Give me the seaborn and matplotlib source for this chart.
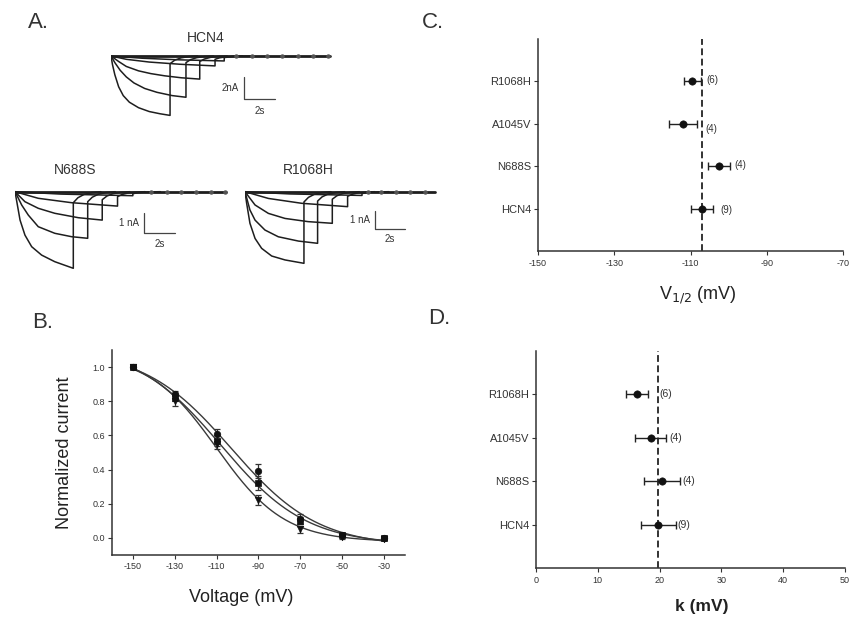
import numpy as np
import pandas as pd
import matplotlib
matplotlib.use("Agg")
import matplotlib.pyplot as plt
import seaborn as sns

# ---------------- data ----------------
# Panel A: whole-cell current traces (time in s, current in nA), one list per sweep
hcn4_times = [
    [0, 0.1, 0.25, 0.5, 0.8, 1.2, 1.8, 2.5, 3.2, 3.86],
    [0, 0.25, 0.6, 1.0, 1.5, 2.2, 3.0, 4.0, 4.9],
    [0, 0.5, 1.0, 1.8, 2.6, 3.5, 4.6, 5.8],
    [0, 1.0, 2.5, 4.5, 6.8],
    [0, 2.0, 4.5, 7.4],
]
hcn4_currents = [
    [0, -0.8, -1.7, -2.8, -3.6, -4.2, -4.7, -5.05, -5.25, -5.4],
    [0, -0.6, -1.3, -1.9, -2.45, -2.95, -3.3, -3.6, -3.75],
    [0, -0.5, -0.95, -1.35, -1.6, -1.8, -1.98, -2.1],
    [0, -0.3, -0.55, -0.75, -0.9],
    [0, -0.2, -0.35, -0.45],
]
hcn4_tails = [-0.7, -0.6, -0.5, -0.3, -0.15]
hcn4_marks = [8.2, 9.2, 10.2, 11.2, 12.2, 13.2, 14.2]
hcn4_stop = 14.3

n688s_times = [
    [0, 0.1, 0.33, 0.65, 1.09, 1.74, 2.6, 3.81],
    [0, 0.2, 0.44, 0.87, 1.52, 2.6, 3.7, 4.75],
    [0, 0.65, 1.52, 2.6, 4.14, 5.7],
    [0, 1.52, 3.7, 6.7],
    [0, 3.0, 7.7],
]
n688s_currents = [
    [0, -0.42, -1.42, -2.17, -2.75, -3.17, -3.5, -3.83],
    [0, -0.3, -0.67, -1.17, -1.75, -2.08, -2.25, -2.33],
    [0, -0.5, -0.83, -1.08, -1.3, -1.42],
    [0, -0.33, -0.55, -0.72],
    [0, -0.12, -0.2],
]
n688s_tails = [-0.55, -0.5, -0.4, -0.25, -0.1]
n688s_marks = [8.9, 9.9, 10.85, 11.8, 12.8, 13.7]
n688s_stop = 13.8

r1068h_times = [
    [0, 0.11, 0.33, 0.67, 1.11, 1.78, 2.67, 3.93],
    [0, 0.33, 0.67, 1.33, 2.22, 3.56, 4.84],
    [0, 0.67, 1.56, 2.67, 4.2, 5.82],
    [0, 1.56, 3.78, 6.84],
    [0, 3.0, 7.8],
]
r1068h_currents = [
    [0, -0.62, -1.69, -2.5, -3.03, -3.44, -3.65, -3.83],
    [0, -0.98, -1.52, -2.05, -2.41, -2.64, -2.76],
    [0, -0.71, -1.16, -1.43, -1.6, -1.69],
    [0, -0.36, -0.62, -0.8],
    [0, -0.12, -0.2],
]
r1068h_tails = [-0.55, -0.5, -0.4, -0.25, -0.1]
r1068h_marks = [8.2, 9.1, 10.1, 11.0, 12.0]
r1068h_stop = 12.7

# tail current shape after each step (s after step end, fraction of tail peak)
tail_dt = [0, 0.3, 0.7, 1.2, 1.8]
tail_frac = [1, 0.55, 0.25, 0.08, 0]

# Panel B: activation curves
voltages = [-150, -130, -110, -90, -70, -50, -30]
act_circle = [1.0, 0.84, 0.61, 0.39, 0.11, 0.02, 0.0]
act_circle_err = [0.0, 0.02, 0.03, 0.04, 0.03, 0.01, 0.005]
act_square = [1.0, 0.82, 0.57, 0.32, 0.10, 0.015, 0.0]
act_square_err = [0.0, 0.02, 0.03, 0.04, 0.02, 0.01, 0.005]
act_tri = [1.0, 0.80, 0.55, 0.22, 0.05, 0.005, -0.005]
act_tri_err = [0.0, 0.03, 0.03, 0.03, 0.02, 0.01, 0.005]

# Panels C and D (bottom to top)
groups = ["HCN4", "N688S", "A1045V", "R1068H"]
v_half = [-107.0, -102.5, -111.9, -109.5]
v_half_err = [2.9, 2.8, 3.7, 2.2]
k_vals = [19.8, 20.4, 18.6, 16.3]
k_err = [2.85, 2.9, 2.5, 1.8]
n_cells = [9, 4, 4, 6]

# ---------------- style ----------------
sns.set_theme(style="ticks")
plt.rcParams['font.family'] = ['Liberation Sans', 'DejaVu Sans']
plt.rcParams['axes.unicode_minus'] = False
INK = '#1e1e1e'
plt.rcParams['axes.edgecolor'] = '#333333'
plt.rcParams['xtick.color'] = '#333333'
plt.rcParams['ytick.color'] = '#333333'

W, H = 854, 620
fig = plt.figure(figsize=(W / 100, H / 100), dpi=100)


def box(left, top, right, bottom):
    # pixel box -> figure fraction
    return [left / W, 1 - bottom / H, (right - left) / W, (bottom - top) / H]


def draw_traces(ax, times, currents, tails, marks, stop, bar, bar_label):
    rows = []
    for n, (ts, cs, tail) in enumerate(zip(times, currents, tails)):
        te = ts[-1]
        tt = list(ts) + [te + d for d in tail_dt]
        ii = list(cs) + [tail * f for f in tail_frac]
        for a, b in zip(tt, ii):
            rows.append((n, a, b))
    df = pd.DataFrame(rows, columns=['trace', 't', 'I'])
    sns.lineplot(data=df, x='t', y='I', units='trace', estimator=None, sort=False,
                 color=INK, lw=1.1, legend=False, ax=ax)
    sns.lineplot(x=[0, stop], y=[0, 0], color=INK, lw=2.0, ax=ax)
    ax.plot(marks, np.zeros(len(marks)), 'o', ms=2.2, color='#555555')
    # scale bar
    bx, by0, by1, blen = bar
    ax.plot([bx, bx, bx + blen], [by0, by1, by1], color='#444444', lw=0.9)
    ax.text(bx - 0.35, (by0 + by1) / 2, bar_label, ha='right', va='center', fontsize=7, color='#333333')
    ax.text(bx + blen / 2, by1 - 0.55 * abs(by1 - by0), '2s', ha='center', va='center',
            fontsize=7, color='#333333')
    ax.set_axis_off()


# Panel A
axA1 = fig.add_axes(box(111, 50.5, 340.5, 122))
axA1.set_xlim(0, 15)
axA1.set_ylim(-6, 0.5)
draw_traces(axA1, hcn4_times, hcn4_currents, hcn4_tails, hcn4_marks, hcn4_stop,
            (8.7, -1.94, -3.94, 2.0), '2nA')

axA2 = fig.add_axes(box(15, 185.7, 236.9, 275.7))
axA2.set_xlim(0, 14.5)
axA2.set_ylim(-4.2, 0.3)
draw_traces(axA2, n688s_times, n688s_currents, n688s_tails, n688s_marks, n688s_stop,
            (8.45, -1.08, -2.08, 2.0), '1 nA')

axA3 = fig.add_axes(box(245, 186.1, 440, 272.1))
axA3.set_xlim(0, 13)
axA3.set_ylim(-4.3, 0.3)
draw_traces(axA3, r1068h_times, r1068h_currents, r1068h_tails, r1068h_marks, r1068h_stop,
            (8.67, -1.02, -2.01, 2.0), '1 nA')

fig.text(206 / W, 1 - 38 / H, 'HCN4', ha='center', va='center', fontsize=10, color='#333333')
fig.text(75 / W, 1 - 170 / H, 'N688S', ha='center', va='center', fontsize=10, color='#333333')
fig.text(308 / W, 1 - 170 / H, 'R1068H', ha='center', va='center', fontsize=10, color='#333333')


def boltzmann_fit(v, i):
    # least-squares Boltzmann with free top/bottom, grid over V1/2 and k
    v = np.asarray(v, dtype=float)
    i = np.asarray(i, dtype=float)
    best = (np.inf, None)
    for vh in np.arange(-125, -85, 0.5):
        for k in np.arange(8, 30, 0.25):
            s = 1 / (1 + np.exp((v - vh) / k))
            A = np.column_stack([s, np.ones_like(s)])
            coef = np.linalg.lstsq(A, i, rcond=None)[0]
            r = np.sum((A @ coef - i) ** 2)
            if r < best[0]:
                best = (r, (vh, k, coef))
    vh, k, coef = best[1]
    vv = np.linspace(v.min(), v.max(), 200)
    return vv, coef[0] / (1 + np.exp((vv - vh) / k)) + coef[1]


# Panel B
axB = fig.add_axes(box(112, 350, 405, 555))
for vals, errs, mk in [(act_circle, act_circle_err, 'o'),
                       (act_square, act_square_err, 's'),
                       (act_tri, act_tri_err, 'v')]:
    fv, fi = boltzmann_fit(voltages, vals)
    sns.lineplot(x=fv, y=fi, color='#3a3a3a', lw=1.0, ax=axB)
    axB.errorbar(voltages, vals, yerr=errs, fmt='none', ecolor='#333333', elinewidth=0.9,
                 capsize=2.5, capthick=0.9)
    sns.scatterplot(x=voltages, y=vals, marker=mk, s=22, color='#111111', edgecolor='#111111',
                    linewidth=0.5, ax=axB, zorder=5)
axB.set_xlim(-160, -20)
axB.set_ylim(-0.1, 1.1)
axB.set_xticks(voltages)
axB.set_yticks([0.0, 0.2, 0.4, 0.6, 0.8, 1.0])
axB.set_yticklabels(['%.1f' % y for y in [0.0, 0.2, 0.4, 0.6, 0.8, 1.0]])
axB.tick_params(labelsize=6.5, length=3, width=0.8, pad=2)
sns.despine(ax=axB)
for s in ['left', 'bottom']:
    axB.spines[s].set_linewidth(1.1)
fig.text(241 / W, 1 - 597 / H, 'Voltage (mV)', ha='center', va='center', fontsize=13, color='#222222')
fig.text(65 / W, 1 - 453 / H, 'Normalized current', ha='center', va='center', fontsize=13,
         rotation=90, color='#222222')


def forest(ax, vals, errs, ref, xlim, xticks, label_offsets, label_size):
    ypos = np.arange(len(groups))
    ax.axvline(ref, color='#333333', lw=1.4, ls=(0, (3.5, 1.8)), zorder=1)
    ax.errorbar(vals, ypos, xerr=errs, fmt='none', ecolor='#222222', elinewidth=1.0,
                capsize=3, capthick=1.0, zorder=3)
    sns.scatterplot(x=vals, y=ypos, s=28, color='#111111', edgecolor='#111111', ax=ax, zorder=4)
    for yv, v, e, n, (dx, dy) in zip(ypos, vals, errs, n_cells, label_offsets):
        ax.annotate('(%d)' % n, (v + e, yv), xytext=(dx, dy), textcoords='offset points',
                    ha='left', va='center', fontsize=label_size, color='#333333')
    ax.set_xlim(*xlim)
    ax.set_ylim(-1, len(groups))
    ax.set_xticks(xticks)
    ax.set_yticks(ypos)
    ax.set_yticklabels(groups)
    ax.tick_params(axis='x', labelsize=6.5, length=3, width=0.8, pad=3)
    ax.tick_params(axis='y', labelsize=8, length=3, width=0.8, pad=2)
    sns.despine(ax=ax)
    for s in ['left', 'bottom']:
        ax.spines[s].set_linewidth(1.1)


# Panel C
axC = fig.add_axes(box(538, 39, 843, 251))
forest(axC, v_half, v_half_err, v_half[0], (-150, -70), [-150, -130, -110, -90, -70],
       [(5.0, -1.3), (3.3, 1.2), (6.0, -3.5), (4.1, 0.8)], 7)
fig.text(698 / W, 1 - 295 / H, r'V$_{1/2}$ (mV)', ha='center', va='center', fontsize=13, color='#222222')

# Panel D
axD = fig.add_axes(box(536, 351, 845, 568))
forest(axD, k_vals, k_err, k_vals[0], (0, 50), [0, 10, 20, 30, 40, 50],
       [(1.2, 0), (1.8, 0), (2.2, 0), (8.5, 0)], 7.5)
fig.text(702 / W, 1 - 606 / H, 'k (mV)', ha='center', va='center', fontsize=12.5,
         fontweight='bold', color='#222222')

# panel letters
for letter, x, y in [('A.', 28, 23), ('B.', 32, 323), ('C.', 422, 23), ('D.', 428, 318)]:
    fig.text(x / W, 1 - y / H, letter, ha='left', va='center', fontsize=16, color='#333333')

fig.savefig('out.png', dpi=100)
